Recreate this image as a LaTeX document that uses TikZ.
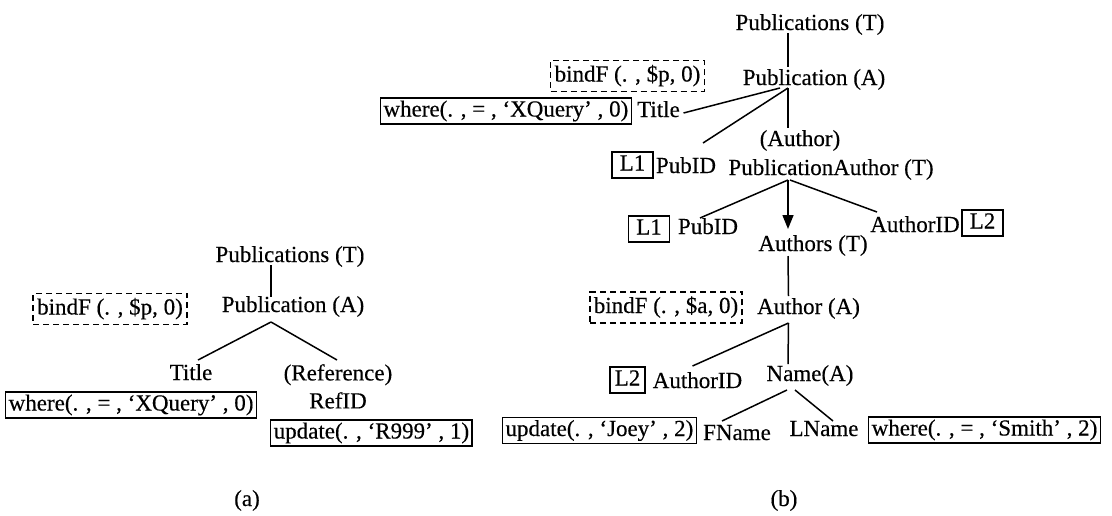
\documentclass[tikz,border=0pt]{standalone}
\usepackage{fontspec}
\setmainfont{Liberation Serif}[FakeBold=0.35]
\usetikzlibrary{calc,arrows.meta}
\begin{document}
\begin{tikzpicture}[x=1pt,y=-1pt,
  every node/.style={font=\fontsize{23}{28}\selectfont},
  lbl/.style={inner sep=0pt,anchor=base},
  opbox/.style={draw,line width=1.4pt,inner xsep=3pt,inner ysep=0pt,minimum height=26pt,text depth=5pt,text height=16pt},
  bindbox/.style={draw,line width=1.4pt,dash pattern=on 6pt off 4pt,inner xsep=4pt,inner ysep=0pt,minimum height=31pt,text depth=5pt,text height=16pt},
  edge/.style={line width=1.5pt},
  ptr/.style={line width=1.5pt,-{Triangle[length=14pt,width=11pt]}}]
\useasboundingbox (0,0) rectangle (1112,515);

% ---------------- tree (a) ----------------
\node[lbl] (pubsA) at (290,262) {Publications (T)};
\node[lbl] (pubA) at (293,312) {Publication (A)};
\node[bindbox] (bindA) at (110,309) {bindF (. , \$p, 0)};
\node[lbl] (titleA) at (191,380) {Title};
\node[inner sep=0pt,anchor=north,align=center] (refA) at (338,364) {(Reference)\\RefID};
\node[opbox,anchor=west] (whereA) at (5,405) {where(. , = , ‘XQuery’ , 0)};
\node[opbox,anchor=west] (updA) at (270,433) {update(. , ‘R999’ , 1)};
\node[lbl] (labA) at (247,506) {(a)};

\draw[edge] ($(pubsA.base)+(-19,3)$) -- ($(pubA.base)+(-22,-15)$);
\coordinate (apA) at ($(pubA.base)+(-22,10)$);
\draw[edge] (apA) -- ($(titleA.base)+(7,-20)$);
\draw[edge] (apA) -- ($(refA.north)+(-1,-4)$);

% ---------------- tree (b) ----------------
\node[lbl] (pubsB) at (810,30) {Publications (T)};
\node[lbl] (pubB) at (814,85) {Publication (A)};
\node[bindbox] (bindB1) at (627.5,76) {bindF (. , \$p, 0)};
\node[opbox,anchor=east] (whereB) at (632,111) {where(. , = , ‘XQuery’ , 0)};
\node[lbl] (titleB) at (658.5,117) {Title};
\node[opbox,minimum width=41pt] (l1a) at (632.5,165) {L1};
\node[lbl] (pubidA) at (686,173) {PubID};
\node[lbl] (authP) at (800,146) {(Author)};
\node[lbl] (pa) at (831,175) {PublicationAuthor (T)};
\node[opbox,minimum width=41pt] (l1b) at (649,229) {L1};
\node[lbl] (pubidB) at (708,234) {PubID};
\node[lbl] (authidA) at (915,232) {AuthorID};
\node[opbox,minimum width=41pt] (l2a) at (982.5,223) {L2};
\node[lbl] (authors) at (813,251) {Authors (T)};
\node[bindbox] (bindB2) at (666,307.5) {bindF (. , \$a, 0)};
\node[lbl] (author) at (808.5,314) {Author (A)};
\node[opbox,minimum width=35pt] (l2b) at (627.5,380) {L2};
\node[lbl] (authidB) at (697.5,388) {AuthorID};
\node[lbl] (nameA) at (810,381) {Name(A)};
\node[opbox,anchor=east] (updJ) at (697,430.5) {update(. , ‘Joey’ , 2)};
\node[lbl] (fname) at (737,440) {FName};
\node[lbl] (lname) at (824,436) {LName};
\node[opbox,anchor=west] (whereS) at (868,430) {where(. , = , ‘Smith’ , 2)};
\node[lbl] (labB) at (784,506) {(b)};

% Publications -> Publication
\draw[edge] ($(pubsB.base)+(-22,3)$) -- ($(pubB.base)+(-26,-18)$);
% Publication -> Title, PubID, (Author)
\coordinate (apB) at ($(pubB.base)+(-26,3)$);
\draw[edge] ($(pubB.base)+(-34,3)$) -- ($(titleB.base)+(25,-4)$);
\draw[edge] (apB) -- ($(pubidA.base)+(17,-30)$);
\draw[edge] (apB) -- ($(authP.base)+(-12,-18)$);
% PublicationAuthor -> PubID, Authors, AuthorID
\coordinate (apPA) at ($(pa.base)+(-43,5)$);
\draw[edge] (apPA) -- ($(pubidB.base)+(-8,-16)$);
\draw[ptr] (apPA) -- ($(authors.base)+(-25,-22)$);
\draw[edge] ($(pa.base)+(-41,5)$) -- ($(authidA.base)+(-38,-20)$);
% Authors -> Author
\draw[edge] ($(authors.base)+(-25,5)$) -- ($(author.base)+(-20,-18)$);
% Author -> AuthorID, Name
\coordinate (apAu) at ($(author.base)+(-20,9)$);
\draw[edge] (apAu) -- ($(authidB.base)+(-5,-22)$);
\draw[edge] (apAu) -- ($(nameA.base)+(-22,-17)$);
% Name -> FName, LName
\draw[edge] ($(nameA.base)+(-23,9)$) -- ($(fname.base)+(-15,-19)$);
\draw[edge] ($(nameA.base)+(-15,9)$) -- ($(lname.base)+(9,-15)$);
\end{tikzpicture}
\end{document}
